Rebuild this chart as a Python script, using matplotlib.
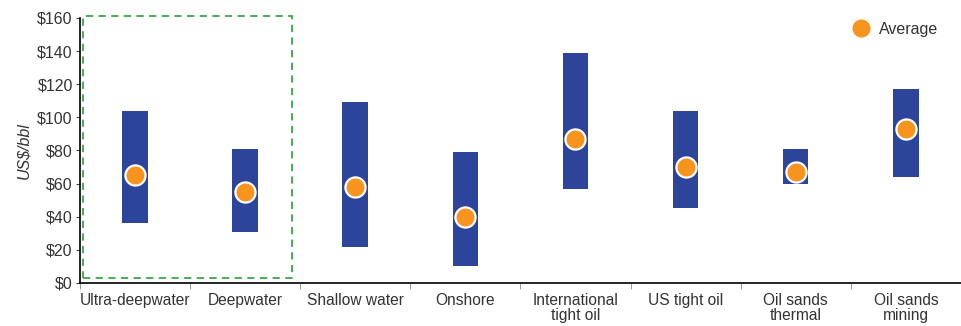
import numpy as np
import matplotlib.pyplot as plt
from matplotlib.patches import Rectangle

plt.rcParams['font.family'] = ['Liberation Sans', 'DejaVu Sans']

categories = ["Ultra-deepwater", "Deepwater", "Shallow water", "Onshore",
              "International\ntight oil", "US tight oil", "Oil sands\nthermal",
              "Oil sands\nmining"]
low = [36, 31, 22, 10, 57, 45, 60, 64]
high = [104, 81, 109, 79, 139, 104, 81, 117]
average = [65, 55, 58, 40, 87, 70, 67, 93]

BLUE = "#2c4499"
ORANGE = "#f7941d"
GREEN = "#3aa648"
TEXT = "#333333"

fig = plt.figure(figsize=(9.61, 3.26), dpi=100)
ax = fig.add_axes([0.083, 0.132, 0.917, 0.813])

x = np.arange(len(categories))
ax.bar(x, np.array(high) - np.array(low), bottom=low, width=0.23,
       color=BLUE, zorder=2)
ax.plot(x, average, "o", color=ORANGE, markersize=14.5,
        markeredgecolor="white", markeredgewidth=1.6, zorder=3)

# legend entry drawn as a plain orange dot
ax.plot([], [], "o", color=ORANGE, markersize=12, label="Average")
ax.legend(loc="upper right", frameon=False, fontsize=11.5, handletextpad=0.1,
          bbox_to_anchor=(0.99, 1.04), labelcolor=TEXT)

# dashed box around the deep-water categories
ax.add_patch(Rectangle((-0.47, 3), 1.9, 158, fill=False, edgecolor=GREEN,
                       linestyle=(0, (4, 3)), linewidth=1.3, clip_on=False,
                       zorder=1))

ax.set_xlim(-0.5, len(categories) - 0.5)
ax.set_ylim(0, 160)
ax.set_yticks(np.arange(0, 161, 20))
ax.set_yticklabels([f"${v}" for v in range(0, 161, 20)], fontsize=11.5,
                   color=TEXT)
ax.set_xticks(x)
ax.set_xticklabels(categories, fontsize=11.2, color=TEXT, linespacing=1.05)
ax.tick_params(axis="x", length=0, pad=7)
ax.set_xticks(np.arange(-0.5, len(categories)), minor=True)
ax.tick_params(axis="x", which="minor", length=4, color="#888888")
ax.tick_params(axis="y", length=3, color="#444444", pad=2)

ax.set_ylabel("US$/bbl", fontsize=11.5, style="italic", color=TEXT,
              labelpad=4)

for side in ("top", "right"):
    ax.spines[side].set_visible(False)
for side in ("left", "bottom"):
    ax.spines[side].set_linewidth(1.2)

fig.savefig("out.png", dpi=100)
